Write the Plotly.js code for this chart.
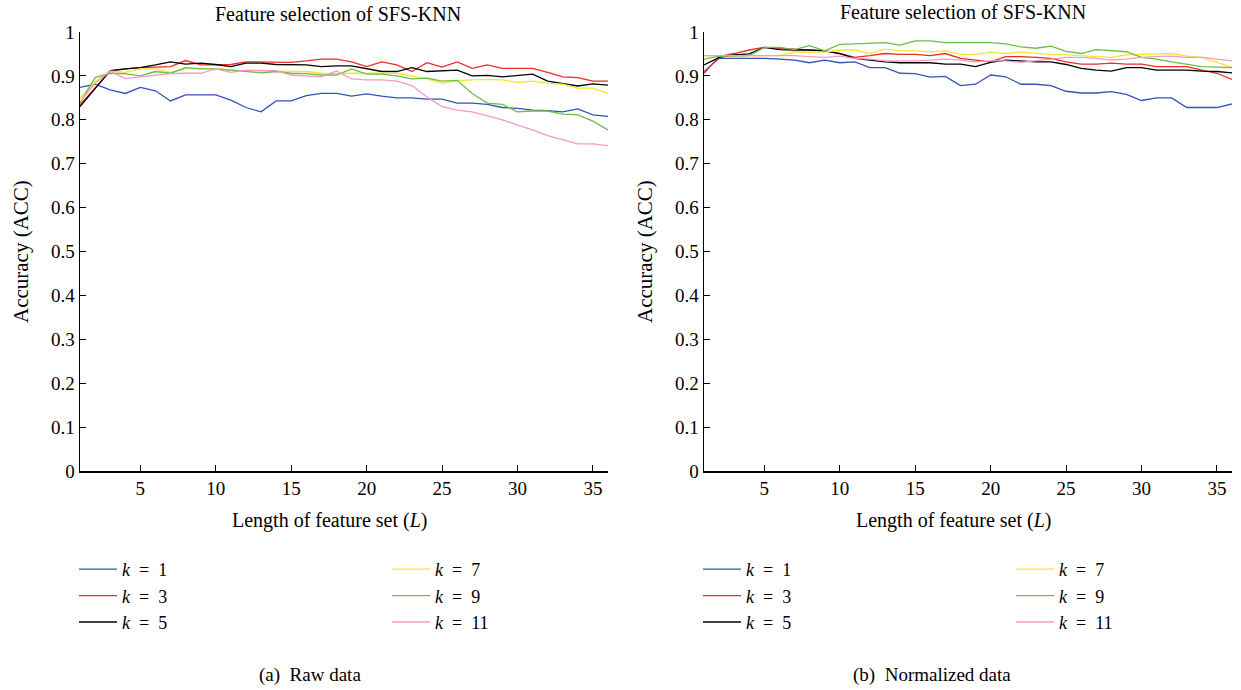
<!DOCTYPE html>
<html>
<head>
<meta charset="utf-8">
<script src="https://cdn.plot.ly/plotly-3.0.1.min.js"></script>
<style>body{margin:0;background:#fff}#chart{width:1241px;height:690px}</style>
</head>
<body>
<div id="chart"></div>
<script>
const L = [1,2,3,4,5,6,7,8,9,10,11,12,13,14,15,16,17,18,19,20,21,22,23,24,25,26,27,28,29,30,31,32,33,34,35,36];
const kLabels = ["1","3","5","7","9","11"];
const xTickVals = [5,10,15,20,25,30,35];
const yTickVals = [0,0.1,0.2,0.3,0.4,0.5,0.6,0.7,0.8,0.9,1];
const yTickText = ["0","0.1","0.2","0.3","0.4","0.5","0.6","0.7","0.8","0.9","1"];

// (a) Raw data
const rawK1 = [0.874,0.881,0.868,0.860,0.874,0.866,0.843,0.857,0.857,0.857,0.845,0.828,0.818,0.843,0.843,0.855,0.860,0.860,0.854,0.859,0.854,0.850,0.850,0.847,0.847,0.838,0.838,0.835,0.828,0.826,0.822,0.821,0.818,0.825,0.811,0.808];
const rawK3 = [0.834,0.872,0.911,0.916,0.919,0.920,0.921,0.935,0.925,0.925,0.926,0.932,0.932,0.931,0.931,0.934,0.938,0.938,0.932,0.921,0.932,0.925,0.910,0.930,0.920,0.932,0.917,0.925,0.917,0.917,0.917,0.908,0.898,0.896,0.888,0.888];
const rawK5 = [0.830,0.870,0.912,0.916,0.919,0.925,0.932,0.927,0.929,0.926,0.921,0.929,0.929,0.926,0.926,0.925,0.921,0.923,0.923,0.917,0.910,0.910,0.919,0.910,0.911,0.913,0.900,0.901,0.898,0.901,0.904,0.888,0.883,0.877,0.882,0.879];
const rawK7 = [0.849,0.887,0.911,0.908,0.916,0.916,0.908,0.916,0.917,0.916,0.913,0.911,0.911,0.911,0.911,0.910,0.906,0.905,0.906,0.906,0.906,0.906,0.900,0.893,0.883,0.889,0.891,0.892,0.891,0.885,0.888,0.883,0.881,0.872,0.872,0.860];
const rawK9 = [0.838,0.896,0.906,0.905,0.900,0.910,0.906,0.919,0.916,0.916,0.913,0.910,0.907,0.910,0.906,0.905,0.902,0.902,0.916,0.904,0.904,0.900,0.893,0.895,0.888,0.890,0.860,0.838,0.835,0.818,0.820,0.820,0.813,0.811,0.797,0.777];
const rawK11 = [0.841,0.883,0.911,0.894,0.898,0.902,0.905,0.906,0.906,0.916,0.908,0.913,0.912,0.912,0.902,0.900,0.898,0.911,0.893,0.891,0.891,0.888,0.878,0.852,0.830,0.822,0.818,0.809,0.800,0.788,0.777,0.764,0.754,0.745,0.745,0.741];

// (b) Normalized data
const normK1 = [0.910,0.940,0.940,0.940,0.940,0.938,0.936,0.930,0.936,0.930,0.932,0.919,0.919,0.906,0.905,0.897,0.899,0.878,0.881,0.902,0.898,0.881,0.881,0.878,0.865,0.861,0.861,0.864,0.858,0.844,0.850,0.850,0.828,0.828,0.828,0.836];
const normK3 = [0.906,0.944,0.951,0.959,0.965,0.963,0.961,0.959,0.957,0.951,0.942,0.946,0.951,0.949,0.949,0.946,0.951,0.940,0.936,0.932,0.944,0.944,0.942,0.940,0.932,0.927,0.927,0.929,0.927,0.927,0.921,0.921,0.921,0.913,0.906,0.892];
const normK5 = [0.925,0.942,0.948,0.950,0.965,0.960,0.959,0.959,0.957,0.951,0.940,0.936,0.932,0.930,0.930,0.930,0.927,0.927,0.921,0.931,0.936,0.934,0.932,0.932,0.926,0.917,0.913,0.911,0.919,0.919,0.913,0.913,0.913,0.911,0.910,0.907];
const normK7 = [0.946,0.946,0.946,0.946,0.946,0.946,0.955,0.954,0.954,0.959,0.959,0.951,0.961,0.957,0.957,0.955,0.957,0.949,0.949,0.954,0.951,0.954,0.951,0.949,0.948,0.946,0.945,0.942,0.948,0.949,0.949,0.951,0.945,0.942,0.931,0.919];
const normK9 = [0.938,0.945,0.945,0.946,0.965,0.965,0.960,0.969,0.957,0.972,0.973,0.974,0.976,0.970,0.980,0.980,0.976,0.976,0.976,0.976,0.973,0.966,0.963,0.968,0.956,0.951,0.960,0.957,0.955,0.942,0.938,0.932,0.927,0.921,0.920,0.919];
const normK11 = [0.946,0.946,0.946,0.946,0.946,0.946,0.946,0.944,0.942,0.945,0.940,0.938,0.934,0.934,0.934,0.936,0.938,0.936,0.932,0.934,0.934,0.931,0.934,0.938,0.942,0.942,0.940,0.936,0.938,0.942,0.944,0.945,0.942,0.942,0.938,0.934];

const colors = ["#3353b5","#ee2a2a","#000000","#f2e830","#6cbd45","#f59ac5"];
const rawSeries = [rawK1,rawK3,rawK5,rawK7,rawK9,rawK11];
const normSeries = [normK1,normK3,normK5,normK7,normK9,normK11];

const W = 1241, H = 690;
const px = v => v / W, py = v => 1 - v / H;
const FONT = '"Liberation Serif", "Times New Roman", serif';
const legendName = k => "<i>k</i>\u2002=\u2002" + k;

const traces = [];
rawSeries.forEach((s, i) => traces.push({
  x: L, y: s, type: "scatter", mode: "lines", xaxis: "x", yaxis: "y",
  name: legendName(kLabels[i]), line: {color: colors[i], width: 1.3},
  legend: i < 3 ? "legend" : "legend2"
}));
normSeries.forEach((s, i) => traces.push({
  x: L, y: s, type: "scatter", mode: "lines", xaxis: "x2", yaxis: "y2",
  name: legendName(kLabels[i]), line: {color: colors[i], width: 1.3},
  legend: i < 3 ? "legend3" : "legend4"
}));

const xCommon = {
  range: [1, 36], tickvals: xTickVals, ticks: "inside", ticklen: 6, tickcolor: "#000",
  showline: true, linecolor: "#000", linewidth: 1.5, showgrid: false, zeroline: false,
  tickfont: {family: FONT, size: 19, color: "#000"}, fixedrange: true
};
const yCommon = {
  range: [0, 1], tickvals: yTickVals, ticktext: yTickText, ticks: "inside", ticklen: 6, tickcolor: "#000",
  showline: true, linecolor: "#000", linewidth: 1.5, showgrid: false, zeroline: false,
  tickfont: {family: FONT, size: 19, color: "#000"}, fixedrange: true
};
const legCommon = {
  font: {family: FONT, size: 18, color: "#000"}, bgcolor: "rgba(0,0,0,0)",
  xanchor: "left", yanchor: "top", tracegroupgap: 0, itemwidth: 38
};
const ann = (text, x, y, size, angle) => ({
  text: text, x: px(x), y: py(y), xref: "paper", yref: "paper", showarrow: false,
  xanchor: "center", yanchor: "middle", textangle: angle || 0,
  font: {family: FONT, size: size, color: "#000"}
});

const layout = {
  width: W, height: H, margin: {l: 0, r: 0, t: 0, b: 0},
  paper_bgcolor: "#fff", plot_bgcolor: "#fff", showlegend: true,
  xaxis: Object.assign({}, xCommon, {domain: [px(80), px(608)], anchor: "y"}),
  yaxis: Object.assign({}, yCommon, {domain: [py(471), py(32)], anchor: "x"}),
  xaxis2: Object.assign({}, xCommon, {domain: [px(704), px(1232)], anchor: "y2"}),
  yaxis2: Object.assign({}, yCommon, {domain: [py(471), py(32)], anchor: "x2"}),
  legend: Object.assign({}, legCommon, {x: px(74), y: py(551)}),
  legend2: Object.assign({}, legCommon, {x: px(387), y: py(551)}),
  legend3: Object.assign({}, legCommon, {x: px(698), y: py(551)}),
  legend4: Object.assign({}, legCommon, {x: px(1011), y: py(551)}),
  annotations: [
    ann("Feature selection of SFS-KNN", 338, 14, 20),
    ann("Feature selection of SFS-KNN", 963, 12, 20),
    ann("Accuracy (ACC)", 21, 252, 21, -90),
    ann("Accuracy (ACC)", 645, 252, 21, -90),
    ann("Length of feature set (<i>L</i>)", 330, 520, 20),
    ann("Length of feature set (<i>L</i>)", 954, 520, 20),
    ann("(a)  Raw data", 310, 675, 19),
    ann("(b)  Normalized data", 932, 675, 19)
  ]
};

Plotly.newPlot("chart", traces, layout, {displayModeBar: false, staticPlot: true});
</script>
</body>
</html>
